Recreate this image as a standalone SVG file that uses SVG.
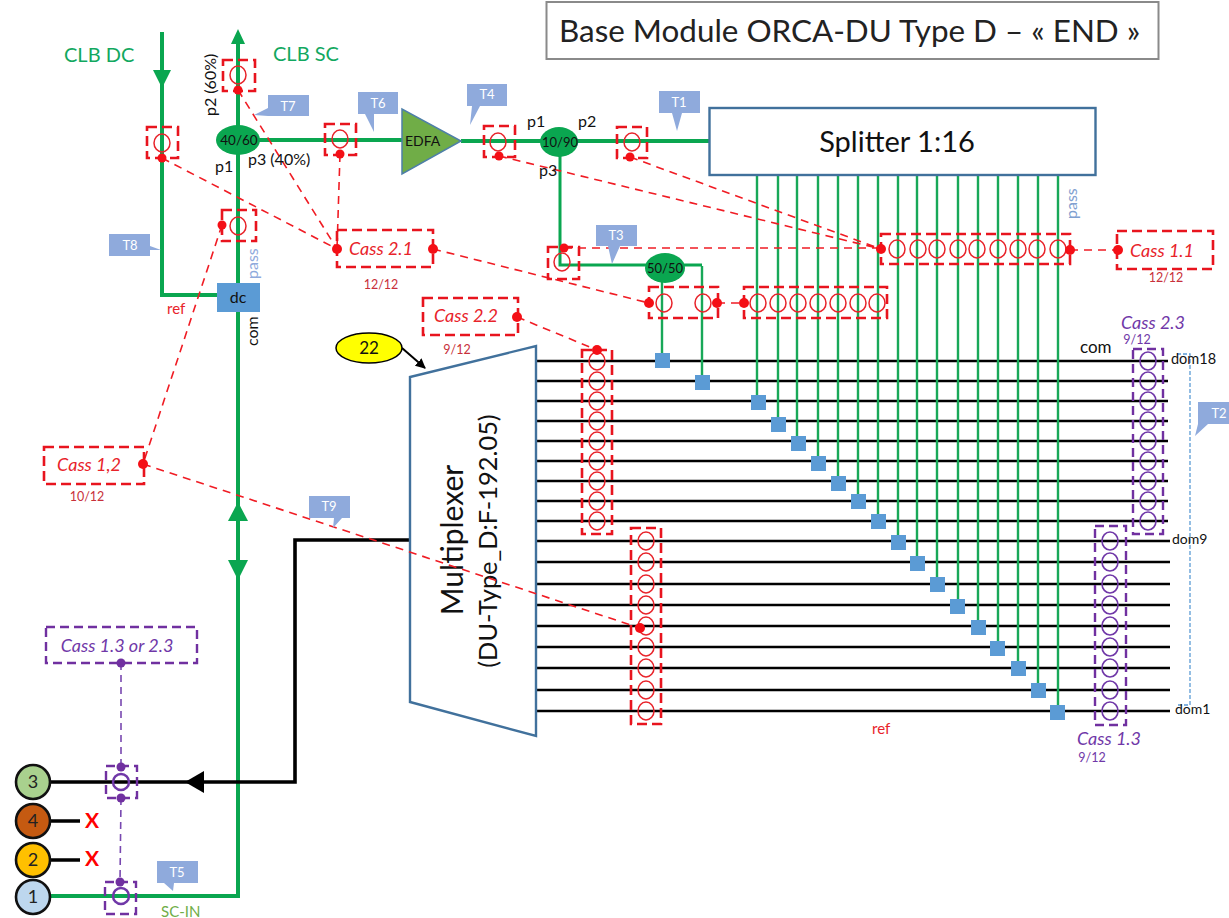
<svg xmlns="http://www.w3.org/2000/svg" xmlns:xlink="http://www.w3.org/1999/xlink" width="1229" height="918" viewBox="0 0 1229 918">
<style>
text{font-family:Lato,"Liberation Sans",sans-serif}
.g3{fill:none;stroke:#0AA650;stroke-width:4}
.g2{fill:none;stroke:#18A858;stroke-width:2.4}
.bk{fill:none;stroke:#000;stroke-width:2.6}
.bk3{fill:none;stroke:#000;stroke-width:3.6}
.rd{fill:none;stroke:#F01C24;stroke-width:1.6;stroke-dasharray:8 6}
.rb{fill:none;stroke:#E8141E;stroke-width:2.6;stroke-dasharray:10 5}
.pd{fill:none;stroke:#7848B0;stroke-width:1.6;stroke-dasharray:7 5}
.pb{fill:none;stroke:#7030A0;stroke-width:2.4;stroke-dasharray:9 5}
.rc{fill:none;stroke:#E8232A;stroke-width:1.5}
.pc{fill:none;stroke:#7038A8;stroke-width:1.6}
.rdot{fill:#F40F16}
.pdot{fill:#7030A0}
.sq{fill:#5B9BD5}
.tag{fill:#8FAADC}
.tagt{fill:#fff;font-size:13px;text-anchor:middle}
.lg{fill:#12A860;font-size:20px}
.lb{fill:#111;font-size:16px}
.cr{fill:#E8232A;font-size:18px;font-style:italic;text-anchor:middle}
.cp{fill:#7038A8;font-size:18px;font-style:italic;text-anchor:middle}
.fr{fill:#C8303A;font-size:12.5px;text-anchor:middle}
.fp{fill:#7038A8;font-size:12.5px;text-anchor:middle}
.port{stroke:#111;stroke-width:2.6}
.pt{fill:#222;font-size:18px;text-anchor:middle}
.x{fill:#F00;font-size:21px;font-weight:700;text-anchor:middle}
</style>
<defs>
<ellipse id="c" rx="8" ry="9"/>
<marker id="ah" markerWidth="12" markerHeight="12" refX="9" refY="5" orient="auto" markerUnits="userSpaceOnUse"><path d="M0,0L10,5L0,10Z" fill="#000"/></marker>
</defs>
<rect width="1229" height="918" fill="#fff"/>

<g id="title"><rect x="546.500" y="2" width="612" height="57" fill="#fff" stroke="#8A8A8A" stroke-width="2"/><text x="559" y="42" font-size="31.400" fill="#222">Base Module ORCA-DU Type D – « END »</text></g>

<g id="connectors">
<path class="bk" d="M536 361H1168M536 381H1168M536 401H1168M536 421H1168M536 441H1168M536 461H1168M536 481H1168M536 501H1168M536 521H1168M536 541H1170M536 562H1170M536 584H1170M536 605H1170M536 626H1170M536 647H1170M536 668H1170M536 690H1170M536 711H1170"/>
<path class="g2" d="M757 175V402M778 175V424M797 175V443M818 175V463M838 175V483M858 175V501M878 175V521M898 175V542M917 175V563M937 175V584M958 175V606M978 175V627M998 175V648M1018 175V668M1038 175V690M1058 175V712"/>
<path class="g2" d="M662 268V360M702 266V382"/>
<path class="g3" style="stroke-width:3" d="M560 142V265H702"/>
<path class="g3" d="M162 32V295H220"/>
<path class="g3" d="M238 36V896H50"/>
<path class="g3" d="M238 140H402M461 141H710"/>
<path class="bk3" d="M411 540H295V782H50"/>
<path class="bk3" d="M50 821H80M50 860H80"/>
<path d="M204 771L185 782L204 793Z" fill="#000"/>
<path d="M238 29L231 44H245Z" fill="#0AA650"/>
<path d="M153 70H171L162 88Z" fill="#0AA650"/>
<path d="M228 521L238 502L248 521Z" fill="#0AA650"/>
<path d="M228 560L238 580L248 560Z" fill="#0AA650"/>
<path fill="none" stroke="#000" stroke-width="2" marker-end="url(#ah)" d="M402 348L425 368"/>
<path fill="none" stroke="#5B9BD5" stroke-width="1.300" stroke-dasharray="4 2" d="M1177 354H1190V705H1177"/>
<path class="rd" d="M162 158L337 249M238 90L337 249M340 154L337 249M433 249L649 303M222 225L143 464M517 317L597 350M499 156L881 249M630 157L881 249M564 248H881M1070 250H1118M717 303H744"/>
<path class="pd" d="M121 663V767M121 798L120 882"/>
</g>

<g id="squares" class="sq">
<rect x="655" y="353" width="15" height="15"/><rect x="695" y="375" width="15" height="15"/><rect x="751" y="395" width="15" height="15"/><rect x="771" y="417" width="15" height="15"/><rect x="791" y="436" width="15" height="15"/><rect x="811" y="456" width="15" height="15"/><rect x="831" y="476" width="15" height="15"/><rect x="851" y="494" width="15" height="15"/><rect x="871" y="514" width="15" height="15"/><rect x="891" y="535" width="15" height="15"/><rect x="910" y="556" width="15" height="15"/><rect x="930" y="577" width="15" height="15"/><rect x="950" y="599" width="15" height="15"/><rect x="971" y="620" width="15" height="15"/><rect x="990" y="641" width="15" height="15"/><rect x="1011" y="661" width="15" height="15"/><rect x="1031" y="683" width="15" height="15"/><rect x="1050" y="705" width="15" height="15"/>
</g>

<g id="splitter"><rect x="709.500" y="108" width="386" height="67" fill="#fff" stroke="#41719C" stroke-width="2.400"/><text x="897" y="152" font-size="29" fill="#111" text-anchor="middle">Splitter 1:16</text></g>
<g id="multiplexer"><path d="M536 346V736L410 702V377Z" fill="#fff" stroke="#41719C" stroke-width="2.400"/>
<text transform="translate(463 540) rotate(-90)" font-size="30" fill="#111" text-anchor="middle">Multiplexer</text>
<text transform="translate(497 541) rotate(-90)" font-size="25.400" fill="#111" text-anchor="middle">(DU-Type_D:F-192.05)</text></g>
<path class="rd" d="M143 464L640 628"/>
<g id="edfa"><path d="M402 109V174L461 141Z" fill="#70AD47" stroke="#4E7FA8" stroke-width="1.500"/><text x="405" y="146" font-size="14" fill="#111">EDFA</text></g>
<g id="coupler-40-60"><ellipse cx="238" cy="140" rx="22" ry="15" fill="#0AA650"/><text x="239" y="145" font-size="13.500" fill="#111" text-anchor="middle">40/60</text></g>
<g id="coupler-10-90"><ellipse cx="559" cy="142" rx="19" ry="15" fill="#0AA650"/><text x="560" y="147" font-size="13" fill="#111" text-anchor="middle">10/90</text></g>
<g id="coupler-50-50"><ellipse cx="665" cy="268" rx="20" ry="15" fill="#0AA650"/><text x="665" y="273" font-size="13" fill="#111" text-anchor="middle">50/50</text></g>
<g id="dc"><rect x="217" y="283" width="43" height="29" fill="#5B9BD5"/><text x="238" y="303" font-size="16" fill="#111" text-anchor="middle">dc</text></g>
<g id="badge-22"><ellipse cx="369" cy="348" rx="33" ry="15" fill="#FFFF00" stroke="#000" stroke-width="1.500"/><text x="369" y="354" font-size="17" fill="#111" text-anchor="middle">22</text></g>

<g id="tap-p2"><rect class="rb" x="223" y="60" width="32" height="31"/><use href="#c" class="rc" x="238" y="75"/><circle class="rdot" cx="238" cy="90" r="4.500"/></g>
<g id="tap-clbdc"><rect class="rb" x="147" y="127" width="31" height="31"/><use href="#c" class="rc" x="162" y="143"/><circle class="rdot" cx="162" cy="158" r="4.500"/></g>
<g id="tap-t6"><rect class="rb" x="325" y="124" width="31" height="31"/><use href="#c" class="rc" x="340" y="139"/><circle class="rdot" cx="340" cy="154" r="4.500"/></g>
<g id="tap-pass"><rect class="rb" x="222" y="210" width="34" height="31"/><use href="#c" class="rc" x="238" y="226"/><circle class="rdot" cx="222" cy="225" r="4.500"/></g>
<g id="tap-t4"><rect class="rb" x="484" y="126" width="31" height="31"/><use href="#c" class="rc" x="498" y="142"/><circle class="rdot" cx="499" cy="156" r="4.500"/></g>
<g id="tap-t1"><rect class="rb" x="617" y="127" width="30" height="31"/><use href="#c" class="rc" x="632" y="142"/><circle class="rdot" cx="630" cy="157" r="4.500"/></g>
<g id="tap-t3"><rect class="rb" x="548" y="247" width="31" height="32"/><use href="#c" class="rc" x="562" y="262"/><circle class="rdot" cx="564" cy="248" r="4.500"/></g>

<g id="array-cass-1-1"><rect class="rb" x="881" y="234" width="189" height="30"/>
<use href="#c" class="rc" x="897" y="249"/><use href="#c" class="rc" x="918" y="249"/><use href="#c" class="rc" x="937" y="249"/><use href="#c" class="rc" x="958" y="249"/><use href="#c" class="rc" x="977" y="249"/><use href="#c" class="rc" x="998" y="249"/><use href="#c" class="rc" x="1018" y="249"/><use href="#c" class="rc" x="1037" y="249"/><use href="#c" class="rc" x="1058" y="249"/>
<circle class="rdot" cx="881" cy="249" r="5"/><circle class="rdot" cx="1070" cy="250" r="5"/></g>
<g id="array-5050-a"><rect class="rb" x="649" y="287" width="69" height="31"/><use href="#c" class="rc" x="664" y="303"/><use href="#c" class="rc" x="703" y="303"/><circle class="rdot" cx="649" cy="303" r="5"/><circle class="rdot" cx="717" cy="303" r="5"/></g>
<g id="array-5050-b"><rect class="rb" x="744" y="287" width="143" height="31"/>
<use href="#c" class="rc" x="758" y="303"/><use href="#c" class="rc" x="778" y="303"/><use href="#c" class="rc" x="798" y="303"/><use href="#c" class="rc" x="818" y="303"/><use href="#c" class="rc" x="838" y="303"/><use href="#c" class="rc" x="858" y="303"/><use href="#c" class="rc" x="877" y="303"/>
<circle class="rdot" cx="744" cy="303" r="5"/></g>
<g id="array-cass-2-2"><rect class="rb" x="582" y="350" width="30" height="184"/>
<use href="#c" class="rc" x="597" y="361"/><use href="#c" class="rc" x="597" y="381"/><use href="#c" class="rc" x="597" y="401"/><use href="#c" class="rc" x="597" y="421"/><use href="#c" class="rc" x="597" y="441"/><use href="#c" class="rc" x="597" y="461"/><use href="#c" class="rc" x="597" y="481"/><use href="#c" class="rc" x="597" y="501"/><use href="#c" class="rc" x="597" y="521"/>
<circle class="rdot" cx="597" cy="350" r="5"/></g>
<g id="array-cass-1-2"><rect class="rb" x="631" y="528" width="30" height="196"/>
<use href="#c" class="rc" x="646" y="541"/><use href="#c" class="rc" x="646" y="562"/><use href="#c" class="rc" x="646" y="584"/><use href="#c" class="rc" x="646" y="605"/><use href="#c" class="rc" x="646" y="626"/><use href="#c" class="rc" x="646" y="647"/><use href="#c" class="rc" x="646" y="668"/><use href="#c" class="rc" x="646" y="690"/><use href="#c" class="rc" x="646" y="711"/>
<circle class="rdot" cx="640" cy="628" r="5"/></g>
<g id="array-cass-2-3"><rect class="pb" x="1133" y="349" width="30" height="185"/>
<use href="#c" class="pc" x="1148" y="361"/><use href="#c" class="pc" x="1148" y="381"/><use href="#c" class="pc" x="1148" y="401"/><use href="#c" class="pc" x="1148" y="421"/><use href="#c" class="pc" x="1148" y="441"/><use href="#c" class="pc" x="1148" y="461"/><use href="#c" class="pc" x="1148" y="481"/><use href="#c" class="pc" x="1148" y="501"/><use href="#c" class="pc" x="1148" y="521"/></g>
<g id="array-cass-1-3"><rect class="pb" x="1095" y="526" width="31" height="199"/>
<use href="#c" class="pc" x="1110" y="541"/><use href="#c" class="pc" x="1110" y="562"/><use href="#c" class="pc" x="1110" y="584"/><use href="#c" class="pc" x="1110" y="605"/><use href="#c" class="pc" x="1110" y="626"/><use href="#c" class="pc" x="1110" y="647"/><use href="#c" class="pc" x="1110" y="668"/><use href="#c" class="pc" x="1110" y="690"/><use href="#c" class="pc" x="1110" y="711"/></g>

<g id="cass-2-1"><rect class="rb" x="337" y="230" width="96" height="37"/><circle class="rdot" cx="337" cy="249" r="5"/><circle class="rdot" cx="433" cy="249" r="5"/><text class="cr" x="381" y="255">Cass 2.1</text><text class="fr" x="381" y="289">12/12</text></g>
<g id="cass-2-2"><rect class="rb" x="423" y="298" width="95" height="37"/><circle class="rdot" cx="517" cy="317" r="5"/><text class="cr" x="466" y="322">Cass 2.2</text><text class="fr" x="457" y="354">9/12</text></g>
<g id="cass-1-2"><rect class="rb" x="44" y="447" width="100" height="37"/><circle class="rdot" cx="143" cy="464" r="5"/><text class="cr" x="89" y="471">Cass 1,2</text><text class="fr" x="87" y="501">10/12</text></g>
<g id="cass-1-1"><rect class="rb" x="1117" y="231" width="96" height="38"/><circle class="rdot" cx="1118" cy="250" r="5"/><text class="cr" x="1162" y="257">Cass 1.1</text><text class="fr" x="1166" y="282">12/12</text></g>
<g id="cass-2-3"><text class="cp" x="1153" y="329">Cass 2.3</text><text class="fp" x="1137" y="344">9/12</text></g>
<g id="cass-1-3"><text class="cp" x="1109" y="745">Cass 1.3</text><text class="fp" x="1092" y="762">9/12</text></g>
<g id="cass-1-3-or-2-3"><rect class="pb" x="46" y="627" width="151" height="36"/><circle class="pdot" cx="121" cy="663" r="4.500"/><text class="cp" x="117" y="652">Cass 1.3 or 2.3</text></g>

<g id="tap-port3"><rect class="pb" x="106" y="766" width="31" height="32"/><circle class="pc" cx="121" cy="782" r="8" style="stroke-width:2.500"/><circle class="pdot" cx="121" cy="767" r="4.500"/><circle class="pdot" cx="121" cy="798" r="4.500"/></g>
<g id="tap-port1"><rect class="pb" x="105" y="882" width="31" height="32"/><circle class="pc" cx="121" cy="896" r="8" style="stroke-width:2.500"/><circle class="pdot" cx="120" cy="882" r="4.500"/></g>

<g id="port-3"><circle class="port" cx="33" cy="782" r="17" fill="#A9D18E"/><text class="pt" x="33" y="788">3</text></g>
<g id="port-4"><circle class="port" cx="33" cy="821" r="17" fill="#C55A11"/><text class="pt" x="33" y="827">4</text></g>
<g id="port-2"><circle class="port" cx="33" cy="860" r="17" fill="#FFC000"/><text class="pt" x="33" y="866">2</text></g>
<g id="port-1"><circle class="port" cx="33" cy="897" r="17" fill="#BDD7EE"/><text class="pt" x="33" y="903">1</text></g>
<text class="x" x="92" y="828">X</text><text class="x" x="92" y="866">X</text>

<g id="T1"><path class="tag" d="M659 91H700V113H682L677 131L672 113H659Z"/><text class="tagt" x="679" y="107">T1</text></g>
<g id="T2"><path class="tag" d="M1198 402H1229V424H1208L1195 436L1198 424Z"/><text class="tagt" x="1219" y="418">T2</text></g>
<g id="T3"><path class="tag" d="M596 225H637V246H620L612 264L608 246H596Z"/><text class="tagt" x="616" y="240">T3</text></g>
<g id="T4"><path class="tag" d="M467 84H507V106H480L470 125L472 106H467Z"/><text class="tagt" x="487" y="99">T4</text></g>
<g id="T5"><path class="tag" d="M157 861H198V883H174L173 891L164 883H157Z"/><text class="tagt" x="177" y="877">T5</text></g>
<g id="T6"><path class="tag" d="M358 92H398V114H374V132L365 114H358Z"/><text class="tagt" x="378" y="108">T6</text></g>
<g id="T7"><path class="tag" d="M268 95H309V116H268L254 115L268 108Z"/><text class="tagt" x="288" y="111">T7</text></g>
<g id="T8"><path class="tag" d="M109 234H150V246L161 250L150 250V256H109Z"/><text class="tagt" x="130" y="250">T8</text></g>
<g id="T9"><path class="tag" d="M309 496H350V518H342L333 528L334 518H309Z"/><text class="tagt" x="329" y="511">T9</text></g>

<g id="labels">
<text class="lg" x="64" y="62">CLB DC</text>
<text class="lg" x="273" y="61">CLB SC</text>
<text class="lb" transform="translate(216 116) rotate(-90)">p2 (60%)</text>
<text class="lb" x="215" y="172">p1</text>
<text class="lb" x="248" y="165">p3 (40%)</text>
<text class="lb" x="527" y="127">p1</text>
<text class="lb" x="578" y="127">p2</text>
<text class="lb" x="539" y="176">p3</text>
<text x="167" y="314" font-size="15" fill="#E8232A">ref</text>
<text x="872" y="734" font-size="15" fill="#E8232A">ref</text>
<text transform="translate(258 279) rotate(-90)" font-size="16" fill="#8FAADC">pass</text>
<text transform="translate(1077 219) rotate(-90)" font-size="16" fill="#7FA0D0">pass</text>
<text class="lb" transform="translate(258 346) rotate(-90)">com</text>
<text x="1080" y="353" font-size="17" fill="#111">com</text>
<text x="1171" y="364" font-size="14.500" fill="#111">dom18</text>
<text x="1172" y="544" font-size="14" fill="#111">dom9</text>
<text x="1175" y="714" font-size="14" fill="#111">dom1</text>
<text x="161" y="917" font-size="15" fill="#70AD47">SC-IN</text>
</g>
</svg>
